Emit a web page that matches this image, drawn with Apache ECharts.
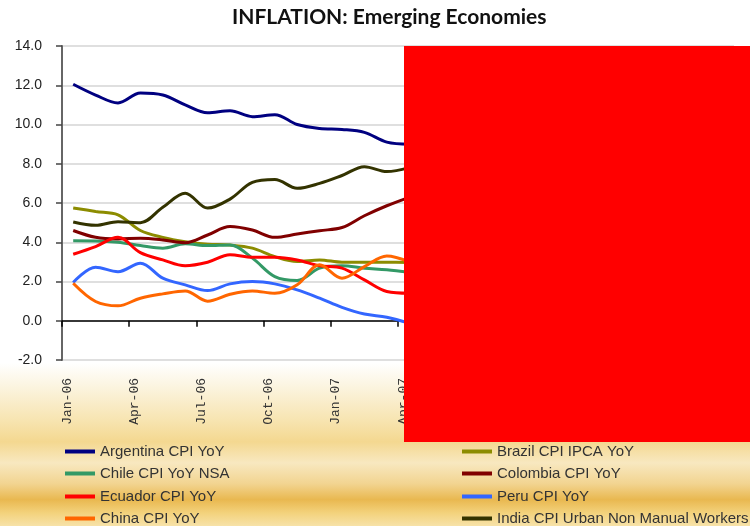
<!DOCTYPE html>
<html>
<head>
<meta charset="utf-8">
<script src="https://cdn.jsdelivr.net/npm/echarts@6/dist/echarts.min.js"></script>
<style>
  html, body { margin: 0; padding: 0; }
  #main { width: 750px; height: 526px; }
</style>
</head>
<body>
<div id="main"></div>
<script>
// months Jan-06 .. Jun-08 (the right part of the chart is covered by the red block)
var months = ['Jan-06','Feb-06','Mar-06','Apr-06','May-06','Jun-06','Jul-06','Aug-06','Sep-06','Oct-06','Nov-06','Dec-06',
              'Jan-07','Feb-07','Mar-07','Apr-07','May-07','Jun-07','Jul-07','Aug-07','Sep-07','Oct-07','Nov-07','Dec-07',
              'Jan-08','Feb-08','Mar-08','Apr-08','May-08','Jun-08'];

// values (Jan-06 .. Apr-07)
var argentina = [12.05, 11.5, 11.1, 11.6, 11.5, 11.0, 10.6, 10.7, 10.4, 10.5, 10.0, 9.8, 9.75, 9.6, 9.1, 9.0];
var brazil    = [5.75, 5.57, 5.4, 4.6, 4.25, 4.03, 3.9, 3.86, 3.7, 3.27, 3.02, 3.1, 2.98, 2.98, 2.98, 2.97];
var chile     = [4.08, 4.07, 4.0, 3.83, 3.7, 3.92, 3.83, 3.86, 3.19, 2.25, 2.05, 2.68, 2.8, 2.68, 2.6, 2.47];
var colombia  = [4.6, 4.25, 4.17, 4.2, 4.12, 3.98, 4.37, 4.8, 4.62, 4.25, 4.42, 4.59, 4.75, 5.35, 5.86, 6.29];
var ecuador   = [3.39, 3.78, 4.25, 3.47, 3.1, 2.8, 2.98, 3.36, 3.24, 3.24, 3.1, 2.8, 2.68, 2.08, 1.49, 1.4];
var peru      = [1.95, 2.73, 2.5, 2.93, 2.17, 1.83, 1.54, 1.88, 2.0, 1.88, 1.57, 1.15, 0.68, 0.34, 0.18, -0.12];
var china     = [1.91, 0.98, 0.76, 1.15, 1.37, 1.52, 1.0, 1.35, 1.52, 1.4, 1.83, 2.85, 2.17, 2.76, 3.3, 3.0];
var india     = [5.03, 4.86, 5.05, 5.0, 5.78, 6.5, 5.74, 6.2, 7.05, 7.2, 6.75, 7.0, 7.4, 7.85, 7.6, 7.8];

var names = ['Argentina CPI YoY', 'Brazil CPI IPCA YoY', 'Chile CPI YoY NSA', 'Colombia CPI YoY',
             'Ecuador CPI YoY', 'Peru CPI YoY', 'China CPI YoY', 'India CPI Urban Non Manual Workers'];
var values = [argentina, brazil, chile, colombia, ecuador, peru, china, india];
var colors = ['#000080', '#8c8c00', '#339966', '#800000', '#ff0000', '#3366ff', '#ff6600', '#333300'];

var chart = echarts.init(document.getElementById('main'));

var series = names.map(function (n, i) {
  return {
    name: n,
    type: 'line',
    data: values[i],
    smooth: 0.35,
    symbol: 'none',
    lineStyle: { width: 3, color: colors[i] },
    itemStyle: { color: colors[i] }
  };
});

// one legend per entry: two columns, four rows
var legendLeft = [65, 462];
var legendTop = [444, 466, 489, 511];
var legends = names.map(function (n, i) {
  return {
    data: [n],
    left: legendLeft[i % 2],
    top: legendTop[Math.floor(i / 2)],
    padding: 0,
    itemWidth: 30,
    itemHeight: 4,
    icon: 'rect',
    textStyle: { fontFamily: 'Liberation Sans, sans-serif', fontSize: 15, color: '#333', lineHeight: 14 }
  };
});

var option = {
  backgroundColor: {
    type: 'linear', x: 0, y: 0, x2: 0, y2: 1,
    colorStops: [
      { offset: 0, color: '#ffffff' },
      { offset: 0.69, color: '#ffffff' },
      { offset: 0.74, color: '#fbf3dc' },
      { offset: 0.80, color: '#f7e4b0' },
      { offset: 0.84, color: '#f4d890' },
      { offset: 0.88, color: '#f8e8c0' },
      { offset: 0.92, color: '#f2d490' },
      { offset: 0.95, color: '#e9b850' },
      { offset: 0.975, color: '#f3d27c' },
      { offset: 1, color: '#f7e2a8' }
    ]
  },
  animation: false,
  title: {
    text: 'INFLATION: Emerging Economies',
    left: 232,
    top: 7,
    padding: 0,
    textStyle: { fontFamily: 'Lato, sans-serif', fontWeight: 'bold', fontSize: 21, color: '#111' }
  },
  legend: legends,
  grid: [
    { left: 62, right: 16, top: 46, bottom: 166 },
    // same width, shifted a little left: carries only the month labels
    { left: 56, right: 22, top: 46, bottom: 166 }
  ],
  xAxis: [
    {
      type: 'category',
      data: months,
      boundaryGap: true,
      axisLine: { onZero: true, lineStyle: { color: '#000', width: 1.5 } },
      axisTick: { show: true, interval: 2, length: 6, lineStyle: { color: '#000', width: 1.5 } },
      axisLabel: { show: false },
      splitLine: { show: false }
    },
    {
      type: 'category',
      gridIndex: 1,
      data: months,
      position: 'bottom',
      boundaryGap: true,
      axisLine: { show: false, onZero: false },
      axisTick: { show: false },
      axisLabel: {
        interval: 2,
        rotate: 90,
        margin: 18,
        fontFamily: 'Liberation Mono, monospace',
        fontSize: 13,
        color: '#333'
      },
      splitLine: { show: false }
    }
  ],
  yAxis: [
    {
      type: 'value',
      min: -2,
      max: 14,
      interval: 2,
      axisLine: { show: true, onZero: false, lineStyle: { color: '#666', width: 2 } },
      axisTick: { show: true, length: 6, lineStyle: { color: '#444', width: 1.5 } },
      axisLabel: {
        margin: 20,
        fontFamily: 'Liberation Sans, sans-serif',
        fontSize: 14,
        color: '#222',
        formatter: function (v) { return v.toFixed(1); }
      },
      splitLine: { lineStyle: { color: '#d4d4d4', width: 1.5 } }
    },
    {
      type: 'value',
      gridIndex: 1,
      min: -2,
      max: 14,
      show: false
    }
  ],
  series: series,
  graphic: [
    {
      type: 'rect',
      z: 100,
      shape: { x: 404, y: 46, width: 346, height: 396 },
      style: { fill: '#ff0000' }
    }
  ]
};

chart.setOption(option);
</script>
</body>
</html>
